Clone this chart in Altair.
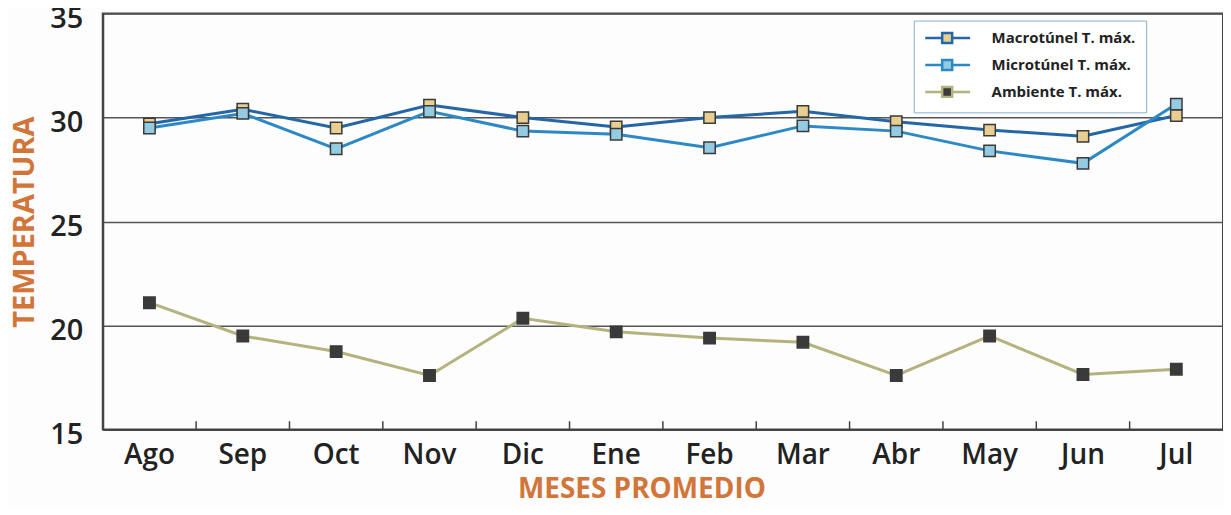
import altair as alt
import pandas as pd

months = ["Ago", "Sep", "Oct", "Nov", "Dic", "Ene", "Feb", "Mar", "Abr", "May", "Jun", "Jul"]
series_names = ["Macrotúnel T. máx.", "Microtúnel T. máx.", "Ambiente T. máx."]
macro = [29.7, 30.4, 29.5, 30.6, 30.0, 29.55, 30.0, 30.3, 29.8, 29.4, 29.1, 30.1]
micro = [29.5, 30.2, 28.5, 30.3, 29.35, 29.2, 28.55, 29.6, 29.35, 28.4, 27.8, 30.65]
ambiente = [21.1, 19.5, 18.75, 17.6, 20.35, 19.7, 19.4, 19.2, 17.6, 19.5, 17.65, 17.9]

line_colors = ["#2466A6", "#2D89C6", "#B5B27E"]
fill_colors = ["#E9CE92", "#93CBE2", "#3A3A3A"]

rows = []
for name, vals in zip(series_names, [macro, micro, ambiente]):
    for m, v in zip(months, vals):
        rows.append({"serie": name, "mes": m, "valor": v})
df = pd.DataFrame(rows)
ticks_df = pd.DataFrame({"mes": months[1:]})

W, H = 1123, 417
band = W / len(months)

font = "Open Sans"
orange = "#D2753A"
sym = "M-1,0L1.83,0M3.5,0L6.5,0M1.83,-0.83L3.5,-0.83L3.5,0.83L1.83,0.83Z"

x_scale = alt.Scale(type="band", paddingInner=0, paddingOuter=0, domain=months)
x_enc = alt.X(
    "mes:N",
    sort=months,
    scale=x_scale,
    axis=alt.Axis(
        title="MESES PROMEDIO",
        labelAngle=0,
        ticks=False,
        domainColor="#444444",
        domainWidth=2,
        labelFontSize=28,
        labelFont=font,
        labelFontWeight=600,
        labelColor="#222222",
        labelPadding=12,
        titleColor=orange,
        titleFont=font,
        titleFontSize=28,
        titleFontWeight="bold",
        titlePadding=6,
        titleX=540,
        titleAlign="center",
        grid=False,
    ),
)
y_enc = alt.Y(
    "valor:Q",
    scale=alt.Scale(domain=[15, 35], nice=False, zero=False),
    axis=alt.Axis(
        title="TEMPERATURA",
        values=[15, 20, 25, 30, 35],
        tickSize=0,
        labelPadding=20,
        labelOffset=5,
        labelFontSize=29,
        labelFont=font,
        labelFontWeight=600,
        labelColor="#222222",
        domainColor="#444444",
        domainWidth=2,
        grid=True,
        gridColor="#555555",
        gridWidth=1.5,
        titleColor=orange,
        titleFont=font,
        titleFontSize=29,
        titleFontWeight="bold",
        titlePadding=10,
    ),
)

stroke_scale = alt.Scale(domain=series_names, range=line_colors)
fill_scale = alt.Scale(domain=series_names, range=fill_colors)

legend = alt.Legend(
    orient="none",
    legendX=813,
    legendY=7,
    symbolType=sym,
    symbolSize=144,
    symbolStrokeWidth=2.5,
    labelFont=font,
    labelFontSize=15,
    labelFontWeight="bold",
    labelColor="#222222",
    labelOffset=53,
    rowPadding=6,
    strokeColor="#8AB0D0",
    fillColor="#FFFFFF",
    padding=10,
)

lines = alt.Chart(df).mark_line(strokeWidth=3).encode(
    x=x_enc,
    y=y_enc,
    stroke=alt.Stroke("serie:N", scale=stroke_scale, sort=series_names, title="", legend=legend),
)

points = alt.Chart(df).mark_square(size=130, stroke="#3A3A3A", strokeWidth=1.5, opacity=1).encode(
    x=x_enc,
    y=y_enc,
    fill=alt.Fill("serie:N", scale=fill_scale, sort=series_names, title="", legend=legend),
)

ticks = alt.Chart(ticks_df).mark_rule(color="#444444", strokeWidth=1.5, xOffset=-band / 2).encode(
    x=alt.X("mes:N", scale=x_scale),
    y=alt.datum(15),
    y2=alt.datum(15.4),
)

chart = alt.layer(lines, points, ticks).properties(
    width=W,
    height=H,
    autosize=alt.AutoSizeParams(type="none"),
    padding={"left": 95, "top": 5, "right": 0, "bottom": 77},
    background="#FDFDFD",
).configure_view(stroke="#444444", strokeWidth=2)

chart.save("out.html", embed_options={"renderer": "svg", "actions": False})
